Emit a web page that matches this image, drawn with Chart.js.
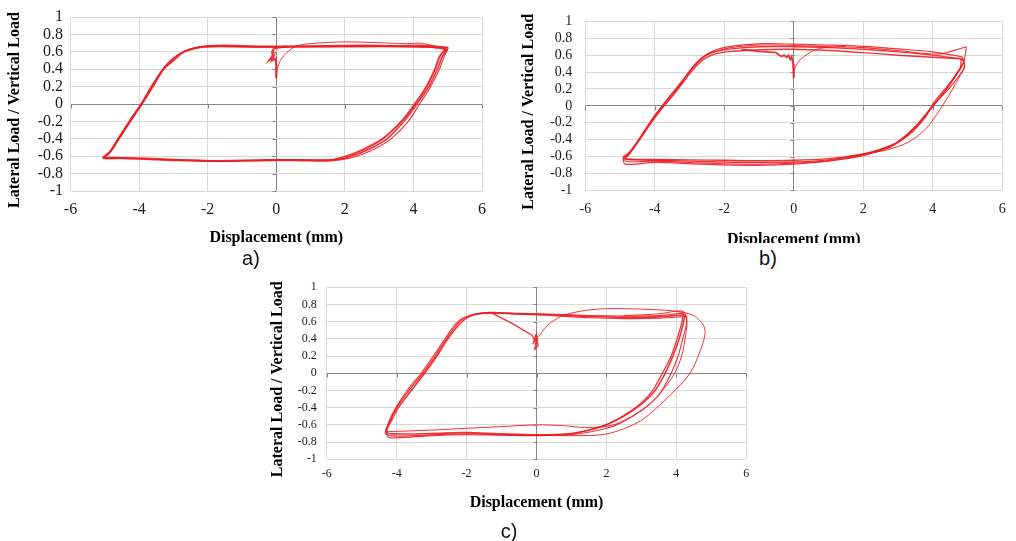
<!DOCTYPE html>
<html><head><meta charset="utf-8">
<script src="https://cdn.jsdelivr.net/npm/chart.js@4.4.1/dist/chart.umd.min.js"></script>
<style>
html,body{margin:0;padding:0;background:#fff;width:1016px;height:541px;overflow:hidden;position:relative;}
.box{position:absolute;overflow:hidden;}
canvas{display:block;}
.lab{position:absolute;font-family:"Liberation Sans",Arial,sans-serif;font-size:20px;line-height:20px;width:30px;text-align:center;color:#111;}
</style></head><body>
<div class="box" style="left:0;top:0;width:500px;height:250px"><canvas id="ca" width="500" height="250"></canvas></div>
<div class="box" style="left:505px;top:0;width:511px;height:243px"><canvas id="cb" width="511" height="252"></canvas></div>
<div class="box" style="left:240px;top:270px;width:520px;height:271px"><canvas id="cc" width="520" height="271"></canvas></div>
<div class="lab" style="left:236px;top:248px">a)</div>
<div class="lab" style="left:753px;top:248px">b)</div>
<div class="lab" style="left:494px;top:521px">c)</div>
<script>
// ---- tick labels ----
const X_TICKS = [-6, -4, -2, 0, 2, 4, 6];
const Y_TICKS = [-1, -0.8, -0.6, -0.4, -0.2, 0, 0.2, 0.4, 0.6, 0.8, 1];
const X_TITLE = 'Displacement (mm)';
const Y_TITLE = 'Lateral Load / Vertical Load';

// ---- chart a) ----
const A_LOOP1_X = [4.95,4.5,4.0,3.0,2.0,1.0,0.0,-1.0,-1.6,-2.0,-2.35,-2.7,-3.0,-3.29,-3.6,-3.92,-4.27,-4.6,-4.85,-5.05,-4.8,-4.0,-3.0,-2.0,-1.0,0.0,1.0,1.6,2.05,2.5,3.1,3.65,4.04,4.38,4.63,4.77,4.95];
const A_LOOP1_Y = [0.64,0.655,0.66,0.665,0.665,0.66,0.655,0.66,0.665,0.66,0.645,0.6,0.5,0.4,0.2,0.0,-0.2,-0.4,-0.55,-0.62,-0.62,-0.63,-0.645,-0.655,-0.65,-0.645,-0.65,-0.645,-0.6,-0.53,-0.4,-0.2,0.0,0.2,0.4,0.55,0.63];
const A_LOOP2_X = [5.02,4.6,4.2,3.5,2.5,1.5,0.5,-0.5,-1.5,-2.1,-2.4,-2.75,-3.05,-3.32,-3.62,-3.9,-4.24,-4.57,-4.83,-5.0,-4.7,-3.8,-2.8,-1.8,-0.8,0.2,1.2,1.8,2.2,2.7,3.2,3.72,4.1,4.45,4.7,4.85,5.02];
const A_LOOP2_Y = [0.65,0.665,0.675,0.67,0.675,0.67,0.665,0.665,0.675,0.665,0.64,0.59,0.51,0.39,0.21,0.02,-0.19,-0.39,-0.55,-0.61,-0.615,-0.625,-0.64,-0.655,-0.65,-0.64,-0.645,-0.635,-0.6,-0.52,-0.41,-0.2,0.0,0.2,0.4,0.55,0.65];
const A_LOOP3_X = [5.0,4.4,3.6,2.6,1.6,0.6,-0.4,-1.2,-1.8,-2.2,-2.5,-2.8,-3.1,-3.35,-3.65,-3.95,-4.3,-4.62,-4.88,-5.03,-4.6,-3.5,-2.5,-1.5,-0.5,0.5,1.4,1.9,2.35,2.85,3.35,3.85,4.18,4.5,4.76,4.9,5.0];
const A_LOOP3_Y = [0.625,0.66,0.665,0.66,0.66,0.665,0.66,0.665,0.67,0.66,0.635,0.58,0.49,0.38,0.2,0.0,-0.2,-0.4,-0.56,-0.625,-0.625,-0.635,-0.65,-0.66,-0.645,-0.64,-0.655,-0.64,-0.6,-0.52,-0.4,-0.2,0.0,0.2,0.4,0.55,0.625];
const A_START_X = [0.0,0.03,0.12,0.28,0.6,1.2,2.0,3.0,3.8,4.2,4.6,5.0];
const A_START_Y = [0.30,0.40,0.50,0.58,0.67,0.70,0.715,0.705,0.695,0.70,0.67,0.645];
const A_END_X = [0.3,-0.05,-0.12,-0.1,-0.17,-0.08,-0.13,-0.02,0.0,0.0];
const A_END_Y = [0.66,0.645,0.6,0.56,0.52,0.55,0.5,0.52,0.45,0.30];

// ---- chart b) ----
const B_LOOP1_X = [4.8,4.0,3.0,2.0,1.0,0.0,-1.0,-1.8,-2.3,-2.6,-2.9,-3.2,-3.5,-3.82,-4.15,-4.5,-4.75,-4.85,-4.6,-4.0,-3.0,-2.0,-1.0,0.0,1.0,2.0,2.7,3.1,3.5,3.95,4.3,4.6,4.8,4.82];
const B_LOOP1_Y = [0.56,0.575,0.6,0.63,0.655,0.67,0.665,0.645,0.61,0.55,0.43,0.27,0.11,-0.04,-0.22,-0.43,-0.58,-0.63,-0.635,-0.635,-0.64,-0.645,-0.65,-0.645,-0.625,-0.575,-0.5,-0.4,-0.25,-0.03,0.15,0.32,0.46,0.56];
const B_LOOP2_X = [4.9,4.0,3.0,2.0,1.0,0.0,-1.0,-1.8,-2.3,-2.6,-2.9,-3.2,-3.5,-3.78,-4.1,-4.45,-4.72,-4.87,-4.5,-4.0,-3.0,-2.0,-1.0,0.0,1.0,2.0,2.8,3.2,3.6,4.0,4.4,4.7,4.88,4.9];
const B_LOOP2_Y = [0.55,0.6,0.64,0.67,0.69,0.70,0.70,0.675,0.64,0.58,0.46,0.3,0.15,0.0,-0.18,-0.4,-0.56,-0.62,-0.64,-0.645,-0.655,-0.665,-0.67,-0.665,-0.64,-0.57,-0.47,-0.36,-0.2,0.0,0.2,0.38,0.5,0.55];
const B_LOOP3_X = [4.85,4.0,3.0,2.0,1.0,0.0,-1.0,-1.7,-2.2,-2.5,-2.8,-3.05,-3.35,-3.7,-4.05,-4.4,-4.7,-4.9,-4.85,-4.0,-3.0,-2.0,-1.0,0.0,1.0,2.0,2.8,3.3,3.7,4.05,4.5,4.8,4.92,4.85];
const B_LOOP3_Y = [0.58,0.64,0.675,0.705,0.72,0.73,0.735,0.71,0.67,0.61,0.51,0.38,0.2,0.02,-0.17,-0.38,-0.55,-0.6,-0.69,-0.67,-0.685,-0.70,-0.705,-0.69,-0.655,-0.59,-0.48,-0.35,-0.18,0.02,0.22,0.38,0.46,0.58];
const B_LOOP4_X = [4.97,4.2,3.0,2.0,1.0,0.0,-1.0,-1.8,-2.35,-2.65,-2.95,-3.25,-3.55,-3.85,-4.2,-4.55,-4.8,-4.9,-4.8,-4.0,-3.0,-2.0,-1.0,0.0,1.0,2.0,2.9,3.3,3.75,4.05,4.45,4.75,4.9,4.97];
const B_LOOP4_Y = [0.70,0.615,0.655,0.69,0.70,0.715,0.72,0.69,0.63,0.56,0.43,0.27,0.12,-0.03,-0.23,-0.45,-0.58,-0.62,-0.66,-0.655,-0.67,-0.685,-0.69,-0.68,-0.65,-0.58,-0.45,-0.34,-0.15,0.05,0.25,0.42,0.53,0.70];
const B_OUT_X = [1.5,2.0,2.69,3.3,3.83,4.4,4.75,4.92,4.85];
const B_OUT_Y = [-0.6,-0.57,-0.52,-0.43,-0.26,0.08,0.33,0.47,0.56];
const B_START_X = [0.0,0.02,0.15,0.35,0.6,0.9,1.5];
const B_START_Y = [0.33,0.43,0.53,0.6,0.66,0.69,0.705];
const B_END_X = [-1.5,-1.0,-0.5,-0.42,-0.35,-0.28,-0.2,-0.15,-0.1,-0.06,-0.02,0.0,0.0];
const B_END_Y = [0.665,0.645,0.63,0.6,0.585,0.6,0.575,0.6,0.55,0.58,0.5,0.42,0.33];

// ---- chart c) ----
const C_LOOP1_X = [4.25,3.5,2.5,1.5,0.5,-0.5,-1.3,-1.8,-2.1,-2.5,-2.85,-3.2,-3.58,-3.95,-4.15,-4.3,-4.1,-3.0,-2.0,-1.0,0.0,1.0,1.5,2.1,2.8,3.35,3.68,3.9,4.08,4.2,4.25];
const C_LOOP1_Y = [0.68,0.655,0.65,0.66,0.68,0.69,0.705,0.68,0.61,0.42,0.2,0.0,-0.2,-0.4,-0.55,-0.68,-0.705,-0.7,-0.69,-0.705,-0.715,-0.7,-0.66,-0.58,-0.42,-0.22,0.0,0.2,0.4,0.58,0.68];
const C_LOOP2_X = [4.2,3.5,2.5,1.5,0.5,-0.5,-1.4,-1.9,-2.2,-2.58,-2.9,-3.25,-3.65,-4.0,-4.2,-4.32,-4.0,-3.0,-2.0,-1.0,0.0,0.8,1.4,2.0,2.7,3.25,3.6,3.85,4.02,4.15,4.2];
const C_LOOP2_Y = [0.70,0.67,0.665,0.67,0.685,0.695,0.70,0.67,0.6,0.4,0.2,0.0,-0.2,-0.4,-0.56,-0.7,-0.73,-0.715,-0.705,-0.715,-0.72,-0.715,-0.67,-0.6,-0.44,-0.24,0.0,0.2,0.4,0.58,0.70];
const C_LOOP3_X = [4.3,3.5,2.5,1.5,0.5,-0.5,-1.5,-2.0,-2.3,-2.65,-2.95,-3.3,-3.7,-4.05,-4.25,-4.25,-4.0,-3.0,-2.0,-1.0,0.0,1.0,1.8,2.4,3.05,3.5,3.85,4.05,4.18,4.28,4.3];
const C_LOOP3_Y = [0.66,0.64,0.635,0.645,0.67,0.685,0.70,0.66,0.58,0.38,0.2,0.0,-0.2,-0.42,-0.6,-0.74,-0.75,-0.725,-0.715,-0.72,-0.725,-0.715,-0.66,-0.58,-0.42,-0.25,0.0,0.2,0.4,0.55,0.66];
const C_LOOP4_X = [-4.3,-3.0,-2.0,-1.0,0.0,0.8,1.4,2.2,3.0,3.5,3.95,4.15,4.25,4.3,4.2,3.5,2.5];
const C_LOOP4_Y = [-0.68,-0.66,-0.64,-0.62,-0.6,-0.61,-0.63,-0.6,-0.43,-0.25,0.0,0.2,0.4,0.6,0.72,0.69,0.67];
const C_OUT_X = [0.05,0.3,0.6,0.86,1.4,2.0,3.0,4.0,4.5,4.77,4.82,4.7,4.39,3.82,2.96,2.0,0.96,0.0];
const C_OUT_Y = [0.42,0.55,0.64,0.685,0.73,0.75,0.745,0.72,0.67,0.56,0.46,0.28,0.0,-0.255,-0.556,-0.706,-0.725,-0.72];
const C_END_X = [-1.3,-0.7,-0.12,-0.05,-0.1,-0.02,0.05,-0.05,0.03,0.0,-0.04];
const C_END_Y = [0.705,0.58,0.44,0.38,0.34,0.44,0.32,0.29,0.4,0.45,0.27];

// ---- helpers ----
const RED = 'rgba(236,30,36,0.9)';
const GRID = '#d9d9d9';
const AXIS = '#868686';
const SERIF = '"Liberation Serif","Times New Roman",serif';

function pts(xs, ys) { return xs.map((x, i) => ({ x: x, y: ys[i] })); }
function line(xs, ys, w, t) {
  return { data: pts(xs, ys), showLine: true, borderColor: RED, backgroundColor: RED,
           borderWidth: w, pointRadius: 0, tension: (t === undefined ? 0.3 : t), fill: false };
}

const axisTicks = {
  id: 'axisTicks',
  beforeDatasetsDraw(chart) {
    const { ctx, scales: { x, y } } = chart;
    const x0 = Math.round(x.getPixelForValue(0)) + 0.5;
    const y0 = Math.round(y.getPixelForValue(0)) + 0.5;
    ctx.save();
    ctx.strokeStyle = AXIS; ctx.lineWidth = 1;
    ctx.beginPath();
    Y_TICKS.forEach(v => { const p = Math.round(y.getPixelForValue(v)) + 0.5; ctx.moveTo(x0 - 4, p); ctx.lineTo(x0, p); });
    X_TICKS.forEach(v => { const p = Math.round(x.getPixelForValue(v)) + 0.5; ctx.moveTo(p, y0); ctx.lineTo(p, y0 + 4); });
    ctx.stroke();
    ctx.restore();
  }
};

function build(id, datasets, L) {
  const gridColor = c => (c.tick && c.tick.value === 0 ? AXIS : GRID);
  new Chart(document.getElementById(id), {
    type: 'scatter',
    data: { datasets: datasets },
    plugins: [axisTicks],
    options: {
      responsive: false, animation: false, devicePixelRatio: 1,
      layout: { padding: { top: L.padTop, right: L.padRight, bottom: 0, left: 0 } },
      plugins: { legend: { display: false }, tooltip: { enabled: false } },
      scales: {
        x: {
          type: 'linear', min: -6, max: 6,
          afterBuildTicks: s => { s.ticks = X_TICKS.map(v => ({ value: v })); },
          afterFit: s => { s.height = L.xHeight; },
          ticks: { font: { family: SERIF, size: L.tick }, color: '#1a1a1a', padding: L.xPad,
                   maxRotation: 0, autoSkip: false, callback: v => String(v) },
          grid: { color: gridColor, drawTicks: false, lineWidth: 1 },
          border: { display: false },
          title: { display: true, text: X_TITLE, color: '#000',
                   font: { family: SERIF, size: 16, weight: 'bold' },
                   padding: { top: 0, bottom: L.xTitlePad } }
        },
        y: {
          type: 'linear', min: -1, max: 1,
          afterBuildTicks: s => { s.ticks = Y_TICKS.map(v => ({ value: v })); },
          afterFit: s => { s.width = L.yWidth; },
          ticks: { font: { family: SERIF, size: L.tick }, color: '#1a1a1a', padding: L.yPad,
                   autoSkip: false, callback: v => String(v) },
          grid: { color: gridColor, drawTicks: false, lineWidth: 1 },
          border: { display: false },
          title: { display: true, text: Y_TITLE + '   ', color: '#000',
                   font: { family: SERIF, size: 16, weight: 'bold' },
                   padding: { top: L.yTitlePad, bottom: 0 } }
        }
      }
    }
  });
}

build('ca', [
  line(A_LOOP1_X, A_LOOP1_Y, 2.0),
  line(A_LOOP2_X, A_LOOP2_Y, 1.6),
  line(A_LOOP3_X, A_LOOP3_Y, 1.1),
  line(A_START_X, A_START_Y, 1.0),
  line(A_END_X, A_END_Y, 2.2, 0)
], { padTop: 17, padRight: 18, yWidth: 70.5, xHeight: 59, tick: 16, yPad: 7.5, xPad: 9.4, xTitlePad: 2.4, yTitlePad: 5.4 });

build('cb', [
  line(B_LOOP1_X, B_LOOP1_Y, 1.4),
  line(B_LOOP2_X, B_LOOP2_Y, 1.3),
  line(B_LOOP3_X, B_LOOP3_Y, 1.2),
  line(B_LOOP4_X, B_LOOP4_Y, 1.1),
  line(B_OUT_X, B_OUT_Y, 1.0),
  line(B_START_X, B_START_Y, 1.0),
  line(B_END_X, B_END_Y, 1.8, 0)
], { padTop: 10, padRight: 10, yWidth: 80.3, xHeight: 61.7, tick: 14, yPad: 13, xPad: 10.3, xTitlePad: 2.4, yTitlePad: 14.4 });

build('cc', [
  line(C_LOOP1_X, C_LOOP1_Y, 1.6),
  line(C_LOOP2_X, C_LOOP2_Y, 1.3),
  line(C_LOOP3_X, C_LOOP3_Y, 1.1),
  line(C_LOOP4_X, C_LOOP4_Y, 1.0),
  line(C_OUT_X, C_OUT_Y, 1.0),
  line(C_END_X, C_END_Y, 1.3, 0)
], { padTop: 12, padRight: 13.7, yWidth: 86.7, xHeight: 81.7, tick: 12, yPad: 10, xPad: 7.5, xTitlePad: 28.4, yTitlePad: 28.4 });
</script>
</body></html>
